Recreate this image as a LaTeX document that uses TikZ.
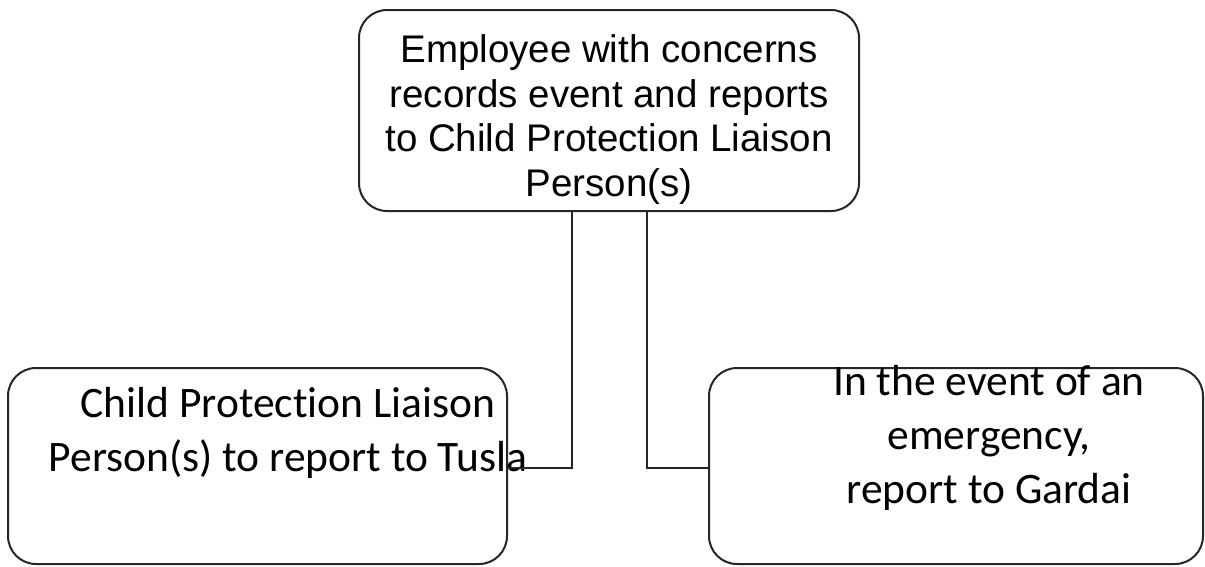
\documentclass[tikz,border=0pt]{standalone}
\usepackage{fontspec}
\setmainfont{Liberation Sans}
\newfontfamily\boxfont[Ligatures={NoCommon,NoRare}]{Carlito}
\usetikzlibrary{positioning}
\tikzset{
  flowbox/.style={draw=black!85, line width=2pt, rounded corners=28pt, inner sep=0pt},
  flowtext/.style={align=center, inner sep=0pt, anchor=base},
  toptext/.style={flowtext, font=\fontsize{38.5}{44.5}\selectfont},
  lowtext/.style={flowtext, font=\boxfont\fontsize{43.5}{54}\selectfont},
  link/.style={draw=black!85, line width=2pt}
}
\begin{document}
\begin{tikzpicture}[x=1pt,y=-1pt]
\useasboundingbox[fill=white] (0,0) rectangle (1205,566);
% boxes
\node[flowbox, minimum width=500pt, minimum height=201pt] (report) at (609,110.5) {};
\node[flowbox, minimum width=499pt, minimum height=196pt] (tusla) at (257.5,466) {};
\node[flowbox, minimum width=494pt, minimum height=196pt] (gardai) at (956,466) {};
% texts (anchored on the baseline of their last line)
\node[toptext] (reporttext) at (609,196) {Employee with concerns\\records event and reports\\to Child Protection Liaison\\Person(s)};
\node[lowtext] (tuslatext) at (288,471) {Child Protection Liaison\\Person(s) to report to Tusla};
\node[lowtext] (gardaitext) at (989,503) {In the event of an\\emergency,\\report to Gardai};
% connectors
\coordinate (lturn) at (572,468);
\coordinate (rturn) at (647,468);
\draw[link] (report.south -| lturn) |- (tusla.east |- lturn);
\draw[link] (report.south -| rturn) |- (gardai.west |- rturn);
\end{tikzpicture}
\end{document}
